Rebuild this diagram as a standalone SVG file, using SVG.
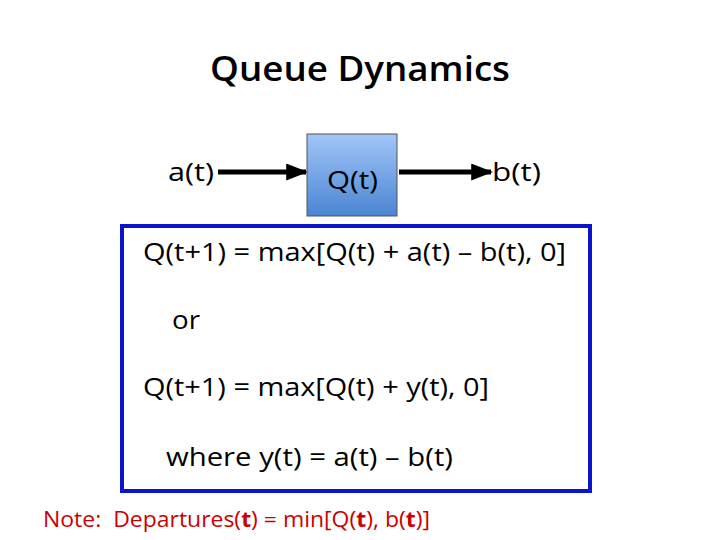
<svg xmlns="http://www.w3.org/2000/svg" width="720" height="540" viewBox="0 0 720 540">
<style>
text{font-family:"Open Sans","Liberation Sans",sans-serif;fill:#000}
.t{font-size:26px}
.note{font-size:22px;fill:#cc0000}
.conn{stroke:#000;stroke-width:5;fill:none}
</style>
<defs>
<linearGradient id="g" x1="0" y1="0" x2="0" y2="1">
<stop offset="0" stop-color="#a2c6f8"/>
<stop offset="1" stop-color="#4a85d2"/>
</linearGradient>
<marker id="ah" viewBox="0 0 10 10" refX="9" refY="5" markerWidth="4.4" markerHeight="3.4" markerUnits="strokeWidth" orient="auto" preserveAspectRatio="none">
<path d="M0,0 L10,5 L0,10 z" fill="#000"/>
</marker>
</defs>
<rect width="720" height="540" fill="#fff"/>
<text x="360" y="81" text-anchor="middle" font-size="34" font-weight="600" textLength="300" lengthAdjust="spacingAndGlyphs">Queue Dynamics</text>
<g id="connectors">
<line class="conn" x1="218" y1="172" x2="306" y2="172" marker-end="url(#ah)"/>
<line class="conn" x1="399" y1="172" x2="491" y2="172" marker-end="url(#ah)"/>
</g>
<g id="a"><text class="t" x="168" y="181" textLength="46" lengthAdjust="spacingAndGlyphs">a(t)</text></g>
<g id="Q">
<rect x="307" y="134" width="90" height="82" fill="url(#g)" stroke="#555" stroke-width="1"/>
<text class="t" x="327" y="189" textLength="51" lengthAdjust="spacingAndGlyphs">Q(t)</text>
</g>
<g id="b"><text class="t" x="492" y="181" textLength="49" lengthAdjust="spacingAndGlyphs">b(t)</text></g>
<g id="eqbox">
<rect x="122" y="226" width="468" height="265" fill="none" stroke="#0a14c8" stroke-width="4"/>
<text class="t" x="143" y="261" textLength="423" lengthAdjust="spacingAndGlyphs">Q(t+1) = max[Q(t) + a(t) – b(t), 0]</text>
<text class="t" x="172" y="329" textLength="28" lengthAdjust="spacingAndGlyphs">or</text>
<text class="t" x="143" y="396" textLength="346" lengthAdjust="spacingAndGlyphs">Q(t+1) = max[Q(t) + y(t), 0]</text>
<text class="t" x="166" y="466" textLength="287" lengthAdjust="spacingAndGlyphs">where y(t) = a(t) – b(t)</text>
</g>
<g id="note"><text class="note" x="43" y="527" textLength="387" lengthAdjust="spacingAndGlyphs">Note:&#160; Departures(<tspan font-weight="bold">t</tspan>) = min[Q(<tspan font-weight="bold">t</tspan>), b(<tspan font-weight="bold">t</tspan>)]</text></g>
</svg>
